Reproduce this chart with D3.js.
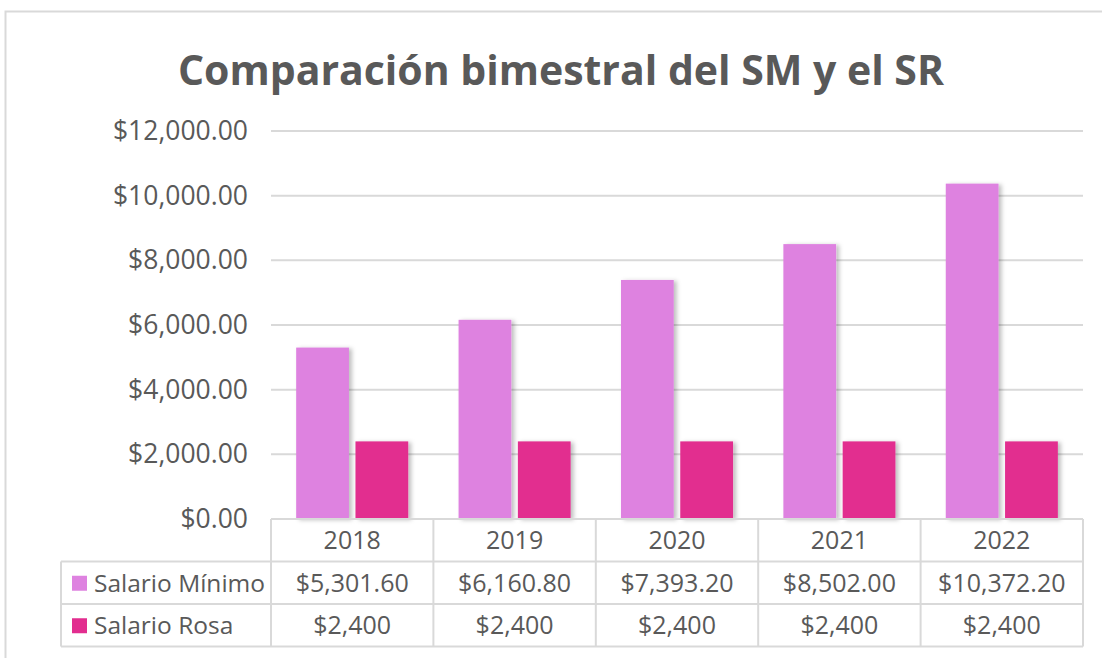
<!DOCTYPE html>
<html>
<head>
<meta charset="utf-8">
<script src="https://cdn.jsdelivr.net/npm/d3@7"></script>
<style>
  body { margin: 0; background: #fff; }
  text { font-family: "Open Sans", "Noto Sans", sans-serif; fill: #595959; }
</style>
</head>
<body>
<div class="chart"></div>
<script>
// data
var years = ['2018', '2019', '2020', '2021', '2022'];
var seriesNames = ['Salario Mínimo', 'Salario Rosa'];
var salarioMinimo = [5301.60, 6160.80, 7393.20, 8502.00, 10372.20];
var salarioRosa = [2400, 2400, 2400, 2400, 2400];
var tableLabels = [
  ['$5,301.60', '$6,160.80', '$7,393.20', '$8,502.00', '$10,372.20'],
  ['$2,400', '$2,400', '$2,400', '$2,400', '$2,400']
];
var yTicks = [0, 2000, 4000, 6000, 8000, 10000, 12000];
var colors = ['#de82e0', '#e22d8f'];

var width = 1102, height = 658;
var plotLeft = 271, plotRight = 1083, plotTop = 131, plotBottom = 519;
var rowH = 42.5;
var tableFont = 25;

var svg = d3.select('.chart').append('svg')
  .attr('width', width)
  .attr('height', height);

// bar shadow
var defs = svg.append('defs');
defs.append('filter').attr('id', 'shadow')
  .attr('x', '-20%').attr('y', '-5%').attr('width', '150%').attr('height', '115%')
  .append('feDropShadow')
  .attr('dx', 3).attr('dy', 1).attr('stdDeviation', 2)
  .attr('flood-color', '#000').attr('flood-opacity', 0.25);

// outer chart border
svg.append('path')
  .attr('d', 'M5.5,' + height + ' V11.5 H' + width)
  .attr('fill', 'none')
  .attr('stroke', '#d9d9d9')
  .attr('stroke-width', 2);

// title
svg.append('text')
  .attr('x', 561)
  .attr('y', 85)
  .attr('text-anchor', 'middle')
  .attr('font-size', 41)
  .attr('font-weight', 'bold')
  .attr('textLength', 766)
  .attr('lengthAdjust', 'spacingAndGlyphs')
  .text('Comparación bimestral del SM y el SR');

var x = d3.scaleBand()
  .domain(years)
  .range([plotLeft, plotRight]);

// two bars per group, width ~ 0.31 of the band with a small gap between
var x1 = d3.scaleBand()
  .domain([0, 1])
  .range([x.bandwidth() * 0.155, x.bandwidth() * 0.845])
  .paddingInner(0.11);

var y = d3.scaleLinear()
  .domain([0, 12000])
  .range([plotBottom, plotTop]);

// gridlines
svg.append('g')
  .selectAll('line')
  .data(yTicks.slice(1))
  .enter()
  .append('line')
  .attr('x1', plotLeft)
  .attr('x2', plotRight)
  .attr('y1', function (d) { return y(d); })
  .attr('y2', function (d) { return y(d); })
  .attr('stroke', '#d9d9d9')
  .attr('stroke-width', 2);

// y axis labels
var yAxis = d3.axisLeft(y)
  .tickValues(yTicks)
  .tickSize(0)
  .tickPadding(23)
  .tickFormat(function (d) { return '$' + d3.format(',.2f')(d); });

var gy = svg.append('g')
  .attr('transform', 'translate(' + plotLeft + ',0)')
  .call(yAxis);
gy.select('.domain').remove();
gy.selectAll('text')
  .attr('font-size', 26.5)
  .attr('fill', '#595959')
  .style('font-family', '"Open Sans", sans-serif');

// bars
var series = [salarioMinimo, salarioRosa];
series.forEach(function (vals, si) {
  svg.append('g')
    .selectAll('rect')
    .data(vals)
    .enter()
    .append('rect')
    .attr('x', function (d, i) { return x(years[i]) + x1(si); })
    .attr('y', function (d) { return y(d); })
    .attr('width', x1.bandwidth())
    .attr('height', function (d) { return y(0) - y(d); })
    .attr('fill', colors[si])
    .attr('filter', 'url(#shadow)');
});

// data table
var table = svg.append('g');
var legendLeft = 61;
var gridColor = '#d9d9d9';

// horizontal lines
var hLines = [
  { y: plotBottom, x1: plotLeft, x2: plotRight },
  { y: plotBottom + rowH, x1: legendLeft, x2: plotRight },
  { y: plotBottom + rowH * 2, x1: legendLeft, x2: plotRight },
  { y: plotBottom + rowH * 3, x1: legendLeft, x2: plotRight }
];
table.selectAll('line.h')
  .data(hLines)
  .enter()
  .append('line')
  .attr('class', 'h')
  .attr('x1', function (d) { return d.x1; })
  .attr('x2', function (d) { return d.x2; })
  .attr('y1', function (d) { return d.y; })
  .attr('y2', function (d) { return d.y; })
  .attr('stroke', gridColor)
  .attr('stroke-width', 2);

// vertical lines
var vx = years.map(function (d) { return x(d); }).concat([plotRight]);
table.selectAll('line.v')
  .data(vx)
  .enter()
  .append('line')
  .attr('class', 'v')
  .attr('x1', function (d) { return d; })
  .attr('x2', function (d) { return d; })
  .attr('y1', plotBottom)
  .attr('y2', plotBottom + rowH * 3)
  .attr('stroke', gridColor)
  .attr('stroke-width', 2);
table.append('line')
  .attr('x1', legendLeft).attr('x2', legendLeft)
  .attr('y1', plotBottom + rowH).attr('y2', plotBottom + rowH * 3)
  .attr('stroke', gridColor)
  .attr('stroke-width', 2);

// year header
table.selectAll('text.year')
  .data(years)
  .enter()
  .append('text')
  .attr('class', 'year')
  .attr('x', function (d) { return x(d) + x.bandwidth() / 2; })
  .attr('y', plotBottom + rowH / 2 + 9)
  .attr('text-anchor', 'middle')
  .attr('font-size', tableFont)
  .text(function (d) { return d; });

// value rows
tableLabels.forEach(function (row, ri) {
  table.selectAll('text.r' + ri)
    .data(row)
    .enter()
    .append('text')
    .attr('class', 'r' + ri)
    .attr('x', function (d, i) { return x(years[i]) + x.bandwidth() / 2; })
    .attr('y', plotBottom + rowH * (ri + 1) + rowH / 2 + 9)
    .attr('text-anchor', 'middle')
    .attr('font-size', tableFont)
    .text(function (d) { return d; });
});

// legend keys
seriesNames.forEach(function (name, si) {
  var cy = plotBottom + rowH * (si + 1) + rowH / 2;
  table.append('rect')
    .attr('x', 72)
    .attr('y', cy - 7)
    .attr('width', 15)
    .attr('height', 15)
    .attr('fill', colors[si]);
  table.append('text')
    .attr('x', 94)
    .attr('y', cy + 9)
    .attr('font-size', 24.5)
    .text(name);
});
</script>
</body>
</html>
